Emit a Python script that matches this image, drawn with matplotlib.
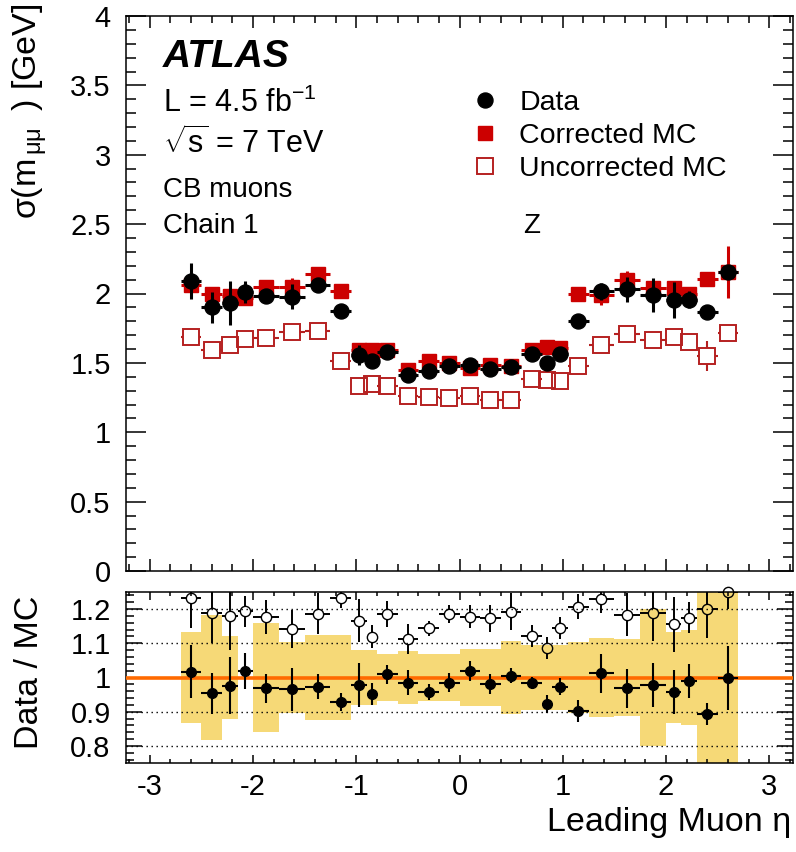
import numpy as np
import matplotlib
matplotlib.use('Agg')
import matplotlib.pyplot as plt
from matplotlib.collections import LineCollection
from matplotlib.lines import Line2D
from matplotlib.ticker import MultipleLocator, FuncFormatter

plt.rcParams['font.family'] = ['Liberation Sans', 'DejaVu Sans']
plt.rcParams['mathtext.fontset'] = 'custom'
plt.rcParams['mathtext.rm'] = 'Liberation Sans'
plt.rcParams['mathtext.it'] = 'Liberation Sans:italic'
plt.rcParams['mathtext.bf'] = 'Liberation Sans:bold'
plt.rcParams['axes.unicode_minus'] = False

# ---------------- data ----------------
eta_edges = [-2.7, -2.5, -2.3, -2.15, -2.0, -1.75, -1.5, -1.25, -1.05, -0.9, -0.8,
             -0.6, -0.4, -0.2, 0.0, 0.2, 0.4, 0.6, 0.8, 0.9, 1.05, 1.25, 1.5,
             1.75, 2.0, 2.15, 2.3, 2.5, 2.7]

data_sigma = [2.09, 1.90, 1.93, 2.01, 1.98, 1.975, 2.06, 1.876, 1.558, 1.51, 1.58,
              1.414, 1.438, 1.479, 1.486, 1.455, 1.47, 1.563, 1.50, 1.566, 1.80,
              2.015, 2.03, 1.99, 1.955, 1.955, 1.866, 2.155]
data_err = [0.13, 0.11, 0.16, 0.08, 0.05, 0.09, 0.04, 0.03, 0.07, 0.03, 0.03, 0.04,
            0.03, 0.03, 0.03, 0.03, 0.02, 0.02, 0.03, 0.03, 0.03, 0.06, 0.09, 0.12,
            0.13, 0.06, 0.03, 0.05]
corr_sigma = [2.06, 2.00, 1.98, 1.97, 2.05, 2.05, 2.14, 2.02, 1.595, 1.59, 1.59,
              1.45, 1.517, 1.50, 1.46, 1.486, 1.474, 1.59, 1.618, 1.607, 1.996,
              1.99, 2.094, 2.04, 2.04, 2.00, 2.104, 2.155]
corr_err = [0.05, 0.03, 0.03, 0.03, 0.03, 0.06, 0.05, 0.02, 0.02, 0.02, 0.02, 0.02,
            0.02, 0.02, 0.02, 0.02, 0.02, 0.02, 0.02, 0.02, 0.02, 0.07, 0.07, 0.03,
            0.03, 0.03, 0.03, 0.19]
unc_sigma = [1.69, 1.595, 1.63, 1.674, 1.68, 1.72, 1.73, 1.517, 1.33, 1.347, 1.33,
             1.263, 1.253, 1.246, 1.258, 1.234, 1.229, 1.385, 1.378, 1.366, 1.479,
             1.63, 1.71, 1.667, 1.686, 1.654, 1.551, 1.715]
unc_err = [0.03, 0.04, 0.03, 0.02, 0.02, 0.02, 0.03, 0.02, 0.02, 0.02, 0.02, 0.02,
           0.02, 0.02, 0.02, 0.02, 0.02, 0.02, 0.02, 0.02, 0.02, 0.02, 0.03, 0.02,
           0.02, 0.02, 0.11, 0.03]

ratio_corr = [1.017, 0.954, 0.976, 1.019, 0.968, 0.966, 0.973, 0.929, 0.978, 0.952,
              1.009, 0.985, 0.957, 0.985, 1.019, 0.981, 1.005, 0.983, 0.922, 0.973,
              0.902, 1.012, 0.968, 0.978, 0.957, 0.990, 0.892, 0.999]
ratio_corr_err = [0.077, 0.06, 0.083, 0.054, 0.043, 0.063, 0.037, 0.027, 0.063,
                  0.032, 0.027, 0.037, 0.023, 0.027, 0.03, 0.028, 0.022, 0.018,
                  0.027, 0.025, 0.033, 0.058, 0.056, 0.065, 0.065, 0.049, 0.032, 0.093]
ratio_unc = [1.232, 1.188, 1.181, 1.194, 1.176, 1.142, 1.186, 1.232, 1.166, 1.119,
             1.186, 1.113, 1.144, 1.185, 1.178, 1.173, 1.192, 1.121, 1.085, 1.144,
             1.207, 1.230, 1.183, 1.188, 1.156, 1.175, 1.200, 1.249]
ratio_unc_err = [0.088, 0.088, 0.10, 0.045, 0.05, 0.056, 0.06, 0.03, 0.063, 0.034,
                 0.037, 0.044, 0.022, 0.027, 0.034, 0.039, 0.054, 0.032, 0.032, 0.032,
                 0.037, 0.04, 0.063, 0.08, 0.08, 0.045, 0.085, 0.05]
band_err = [0.133, 0.184, 0.12, 0.0, 0.158, 0.105, 0.124, 0.124, 0.08, 0.08, 0.069,
            0.077, 0.068, 0.068, 0.084, 0.084, 0.106, 0.095, 0.095, 0.095, 0.105,
            0.115, 0.112, 0.2, 0.134, 0.14, 0.35, 0.35]

labels = ['Data', 'Corrected MC', 'Uncorrected MC']

# ---------------- styling ----------------
RED = '#cc0000'
RED_OPEN = '#b52020'
YELLOW = '#f6d977'
ORANGE = '#ff6a00'
FS = 21
FT = 24.5

edges = np.array(eta_edges)
centers = 0.5 * (edges[:-1] + edges[1:])
halfw = 0.5 * np.diff(edges)

fig = plt.figure(figsize=(7.96, 8.52), dpi=100)
W, H = 796.0, 852.0
ax1 = fig.add_axes([126 / W, 1 - 571 / H, 667 / W, 555 / H])
ax2 = fig.add_axes([126 / W, 1 - 763 / H, 667 / W, 171 / H])

XL = (-3.23, 3.23)


def open_errbars(ax, x, y, xe, ye, half_px, color, lw):
    """error bars that stop at the edge of an open marker (ROOT style)"""
    tr = ax.transData
    inv = tr.inverted()
    segs = []
    for xi, yi, xei, yei in zip(x, y, xe, ye):
        cx, cy = tr.transform((xi, yi))
        lx, _ = tr.transform((xi - xei, yi))
        rx, _ = tr.transform((xi + xei, yi))
        _, by = tr.transform((xi, yi - yei))
        _, ty = tr.transform((xi, yi + yei))
        pix = []
        if cx - half_px > lx:
            pix.append([(lx, cy), (cx - half_px, cy)])
        if rx > cx + half_px:
            pix.append([(cx + half_px, cy), (rx, cy)])
        if cy - half_px > by:
            pix.append([(cx, by), (cx, cy - half_px)])
        if ty > cy + half_px:
            pix.append([(cx, cy + half_px), (cx, ty)])
        for p in pix:
            segs.append(inv.transform(p))
    ax.add_collection(LineCollection(segs, colors=color, linewidths=lw))


# ---------------- top panel ----------------
ax1.set_xlim(*XL)
ax1.set_ylim(0, 4)

open_errbars(ax1, centers, unc_sigma, halfw, unc_err, 8.0, RED_OPEN, 1.5)
ax1.plot(centers, unc_sigma, 's', mfc='none', mec=RED_OPEN, ms=11.5, mew=1.4,
         zorder=3)
ax1.errorbar(centers, corr_sigma, xerr=halfw, yerr=corr_err, fmt='s', color=RED,
             ms=9.6, elinewidth=2.2, capsize=0, zorder=4)
ax1.errorbar(centers, data_sigma, xerr=halfw, yerr=data_err, fmt='o', color='black',
             ms=10.8, elinewidth=2.2, capsize=0, zorder=5)

fmt = FuncFormatter(lambda v, p: '%g' % round(v, 3))
ax1.xaxis.set_major_locator(MultipleLocator(1))
ax1.xaxis.set_minor_locator(MultipleLocator(0.2))
ax1.yaxis.set_major_locator(MultipleLocator(0.5))
ax1.yaxis.set_minor_locator(MultipleLocator(0.1))
ax1.yaxis.set_major_formatter(fmt)
ax1.tick_params(axis='x', which='major', direction='in', length=8.6, width=1.1,
                top=True, bottom=True, labelbottom=False)
ax1.tick_params(axis='x', which='minor', direction='in', length=5, width=1.1,
                top=True, bottom=True)
ax1.tick_params(axis='y', which='major', direction='in', length=14.5, width=1.1,
                left=True, right=True, labelsize=FS, pad=11)
ax1.tick_params(axis='y', which='minor', direction='in', length=7.5, width=1.1,
                left=True, right=True)
for s in ax1.spines.values():
    s.set_linewidth(1.1)


def px(x, y):
    return x / W, 1 - y / H


fig.text(*px(163, 67), 'ATLAS', fontsize=28, fontweight='bold', fontstyle='italic',
         ha='left', va='baseline')
fig.text(*px(163, 112), r'L = 4.5 fb$^{\mathregular{-1}}$', fontsize=22,
         ha='left', va='baseline')
fig.text(*px(163, 153), r'$\mathregular{\sqrt{s}}$ = 7 TeV', fontsize=22,
         ha='left', va='baseline')
fig.text(*px(163, 197), 'CB muons', fontsize=20, ha='left', va='baseline')
fig.text(*px(163, 233), 'Chain 1', fontsize=20, ha='left', va='baseline')
fig.text(*px(523, 233), 'Z', fontsize=20, ha='left', va='baseline')

handles = [
    Line2D([], [], ls='none', marker='o', color='black', ms=10.8),
    Line2D([], [], ls='none', marker='s', color=RED, ms=9.6),
    Line2D([], [], ls='none', marker='s', mfc='none', mec=RED_OPEN, ms=11.5, mew=1.4),
]
ax1.legend(handles, labels, loc='upper left', bbox_to_anchor=px(471, 90),
           bbox_transform=fig.transFigure, frameon=False, fontsize=20.5,
           handlelength=1.0, handletextpad=0.7, labelspacing=0.25, borderpad=0,
           borderaxespad=0)

fig.text(*px(30, 3), r'$\mathregular{\sigma(m_{\,\mu\mu}\;\;)}$ [GeV]', rotation=90,
         ha='center', va='top', fontsize=FT)

# ---------------- bottom panel ----------------
ax2.set_xlim(*XL)
ax2.set_ylim(0.75, 1.25)

band = np.array(band_err)
ax2.bar(edges[:-1], 2 * band, width=np.diff(edges), bottom=1 - band, align='edge',
        color=YELLOW, linewidth=0, zorder=1)
for v in [0.8, 0.9, 1.1, 1.2]:
    ax2.axhline(v, color='black', ls=(0, (1.0, 2.6)), lw=1.0, zorder=2)
ax2.axhline(1.0, color=ORANGE, lw=2.6, zorder=3)

open_errbars(ax2, centers, ratio_unc, halfw, ratio_unc_err, 5.0, 'black', 1.4)
ax2.plot(centers, ratio_unc, 'o', mfc='none', mec='black', ms=7.4, mew=1.0,
         zorder=5, clip_on=False)
ax2.errorbar(centers, ratio_corr, xerr=halfw, yerr=ratio_corr_err, fmt='o',
             color='black', ms=7.0, elinewidth=1.5, capsize=0, zorder=6)

ax2.xaxis.set_major_locator(MultipleLocator(1))
ax2.xaxis.set_minor_locator(MultipleLocator(0.2))
ax2.yaxis.set_major_locator(MultipleLocator(0.1))
ax2.yaxis.set_minor_locator(MultipleLocator(0.02))
ax2.yaxis.set_major_formatter(fmt)
ax2.xaxis.set_major_formatter(fmt)
ax2.tick_params(axis='x', which='major', direction='in', length=5.5, width=1.1,
                top=True, bottom=True, labelsize=FS, pad=7)
ax2.tick_params(axis='x', which='minor', direction='in', length=3, width=1.1,
                top=True, bottom=True)
ax2.tick_params(axis='y', which='major', direction='in', length=11.5, width=1.1,
                left=True, right=True, labelsize=FS, pad=11)
ax2.tick_params(axis='y', which='minor', direction='in', length=5.5, width=1.1,
                left=True, right=True)
for s in ax2.spines.values():
    s.set_linewidth(1.1)

fig.text(*px(30, 596), 'Data / MC', rotation=90, ha='center', va='top', fontsize=FT)
fig.text(*px(791, 822), 'Leading Muon η', ha='right', va='center', fontsize=FT)

fig.savefig('out.png', dpi=100)
